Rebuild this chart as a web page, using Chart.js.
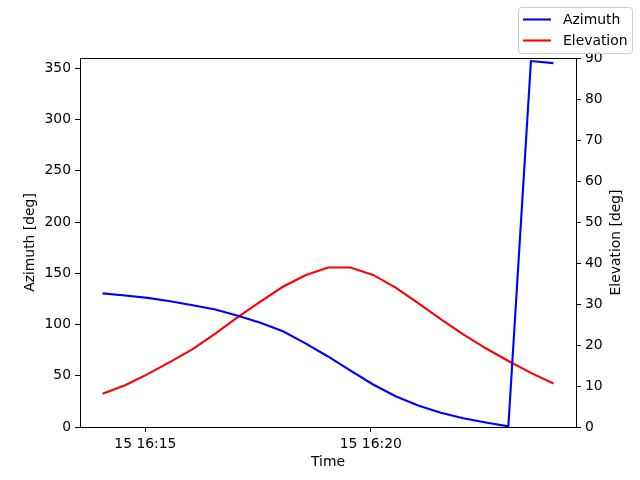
<!DOCTYPE html>
<html>
<head>
<meta charset="utf-8">
<script src="https://cdn.jsdelivr.net/npm/chart.js@4"></script>
<style>
  html, body { margin: 0; padding: 0; background: #fff; }
  #wrap { width: 640px; height: 480px; position: relative; }
</style>
</head>
<body>
<div id="wrap"><canvas id="c" width="640" height="480"></canvas></div>
<script>
// Sample times (HH:MM:SS), day 15
const times = ["16:14:03","16:14:33","16:15:03","16:15:33","16:16:03","16:16:33","16:17:03","16:17:33",
  "16:18:03","16:18:33","16:19:03","16:19:33","16:20:03","16:20:33","16:21:03","16:21:33",
  "16:22:03","16:22:33","16:23:03","16:23:33","16:24:03"];
const azimuth = [130.4,128.3,126.0,122.6,118.8,114.6,108.6,101.8,93.4,81.6,68.8,55.0,41.5,30.0,21.0,14.0,8.6,4.4,0.6,357.0,355.0];
const elevation = [8.1,10.2,12.9,15.9,19.0,22.8,26.8,30.6,34.2,37.0,38.9,38.9,37.1,34.0,30.2,26.3,22.6,19.2,16.1,13.2,10.6];
const xTickTimes = ["16:15:00","16:20:00"];
const xTickLabels = ["15 16:15","15 16:20"];
const azTicks = [0,50,100,150,200,250,300,350];
const elTicks = [0,10,20,30,40,50,60,70,80,90];
const xTitle = "Time", yTitle = "Azimuth [deg]", y1Title = "Elevation [deg]";

function toSec(t){ const p=t.split(":").map(Number); return p[0]*3600+p[1]*60+p[2]; }
const xs = times.map(toSec);
const span = xs[xs.length-1]-xs[0];
const xMin = xs[0]-span*0.05, xMax = xs[xs.length-1]+span*0.05;
const FONT = "'DejaVu Sans', sans-serif";
const FS = 13.9;

const frame = {
  id:'frame',
  afterDraw(chart){
    const {ctx, chartArea:a} = chart;
    ctx.save();
    ctx.strokeStyle='#000'; ctx.lineWidth=1;
    ctx.strokeRect(Math.round(a.left)+0.5, Math.round(a.top)+0.5, Math.round(a.right-a.left), Math.round(a.bottom-a.top));
    // axis titles
    ctx.fillStyle='#000';
    ctx.font = FS+"px "+FONT;
    ctx.textAlign='center'; ctx.textBaseline='middle';
    const cy = (a.top+a.bottom)/2;
    ctx.fillText(xTitle, (a.left+a.right)/2, 462);
    ctx.save(); ctx.translate(30, cy); ctx.rotate(-Math.PI/2); ctx.fillText(yTitle,0,0); ctx.restore();
    ctx.save(); ctx.translate(616, cy); ctx.rotate(-Math.PI/2); ctx.fillText(y1Title,0,0); ctx.restore();
    // legend
    ctx.textAlign='left';
    const bx=518.5, by=7.5, bw=114, bh=46;
    ctx.fillStyle='rgba(255,255,255,0.8)';
    ctx.strokeStyle='#cccccc';
    ctx.beginPath();
    if (ctx.roundRect) ctx.roundRect(bx,by,bw,bh,3); else ctx.rect(bx,by,bw,bh);
    ctx.fill(); ctx.stroke();
    chart.data.datasets.forEach((ds,i)=>{
      const y = 19.5 + i*21;
      ctx.strokeStyle=ds.borderColor; ctx.lineWidth=2.1;
      ctx.beginPath(); ctx.moveTo(523,y); ctx.lineTo(551,y); ctx.stroke();
      ctx.fillStyle='#000';
      ctx.fillText(ds.label,563,y+0.5);
    });
    ctx.restore();
  }
};

new Chart(document.getElementById('c'), {
  type:'line',
  data:{
    datasets:[
      {label:'Azimuth', data: xs.map((x,i)=>({x, y:azimuth[i]})), borderColor:'#0000ff', borderWidth:2.1, pointRadius:0, yAxisID:'y', tension:0},
      {label:'Elevation', data: xs.map((x,i)=>({x, y:elevation[i]})), borderColor:'#ff0000', borderWidth:2.1, pointRadius:0, yAxisID:'y1', tension:0}
    ]
  },
  options:{
    responsive:false, animation:false,
    layout:{padding:{top:58, bottom:0, left:0, right:0}},
    plugins:{legend:{display:false}, tooltip:{enabled:false}},
    scales:{
      x:{
        type:'linear', min:xMin, max:xMax,
        afterBuildTicks(s){ s.ticks = xTickTimes.map(t=>({value:toSec(t)})); },
        afterFit(s){ s.height = 53; },
        ticks:{ callback(v){ const i=xTickTimes.map(toSec).indexOf(v); return i>=0?xTickLabels[i]:''; },
          color:'#000', font:{family:FONT,size:FS}, padding:4, maxRotation:0, autoSkip:false },
        grid:{display:true, drawOnChartArea:false, tickLength:5, tickColor:'#000', color:'#000'},
        border:{display:true, color:'#000'}
      },
      y:{
        position:'left', min:0, max:360,
        afterBuildTicks(s){ s.ticks = azTicks.map(v=>({value:v})); },
        afterFit(s){ s.width = 80; },
        ticks:{ color:'#000', font:{family:FONT,size:FS}, padding:4 },
        grid:{display:true, drawOnChartArea:false, tickLength:5, tickColor:'#000', color:'#000'},
        border:{display:true, color:'#000'}
      },
      y1:{
        position:'right', min:0, max:90,
        afterBuildTicks(s){ s.ticks = elTicks.map(v=>({value:v})); },
        afterFit(s){ s.width = 64; },
        ticks:{ color:'#000', font:{family:FONT,size:FS}, padding:4 },
        grid:{display:true, drawOnChartArea:false, tickLength:5, tickColor:'#000', color:'#000'},
        border:{display:true, color:'#000'}
      }
    }
  },
  plugins:[frame]
});
</script>
</body>
</html>
